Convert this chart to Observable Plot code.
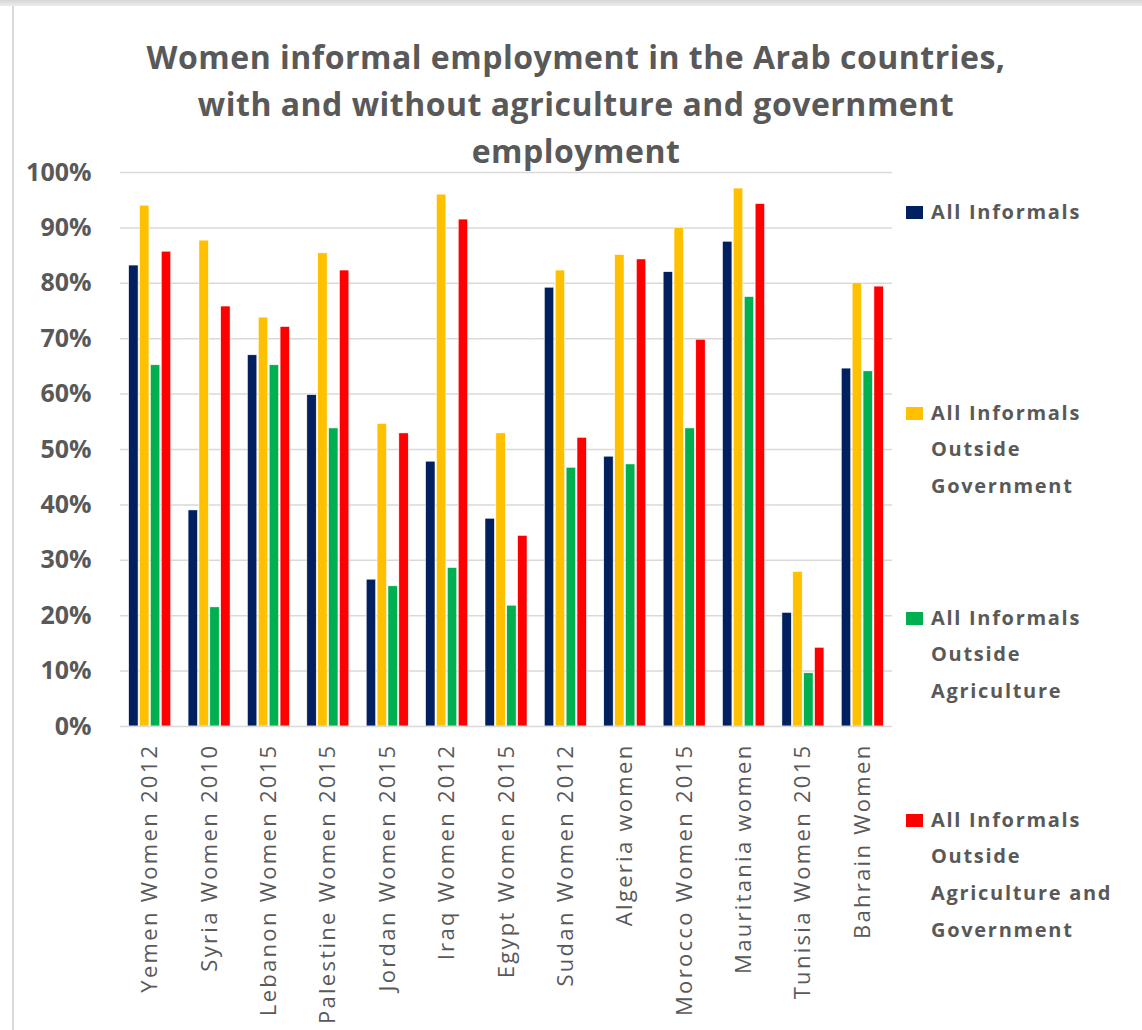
<!DOCTYPE html>
<html>
<head>
<meta charset="utf-8">
<script src="https://cdn.jsdelivr.net/npm/d3@7"></script>
<script src="https://cdn.jsdelivr.net/npm/@observablehq/plot@0.6"></script>
<style>
  html, body { margin: 0; padding: 0; background: #fff; }
  body { width: 1142px; height: 1030px; position: relative; overflow: hidden; font-family: "Open Sans", sans-serif; color: #595959; }
  #topband { position: absolute; left: 0; top: 0; width: 1142px; height: 6px; background: linear-gradient(#d6d6d6, #ececec); }
  #leftline { position: absolute; left: 12px; top: 6px; width: 2px; height: 1024px; background: #dadada; }
  #title { position: absolute; left: 5px; top: 33px; width: 1142px; text-align: center; font-size: 32px; font-weight: bold; line-height: 47px; letter-spacing: 0.5px; }
  #chart { position: absolute; left: 0; top: 150px; }
  .leg { position: absolute; left: 906px; font-size: 20px; font-weight: bold; line-height: 36.7px; letter-spacing: 1.7px; }
  .leg .sw { position: absolute; left: 0; top: 12px; width: 17px; height: 13px; }
  .leg .tx { position: absolute; left: 25px; top: 0; white-space: nowrap; }
</style>
</head>
<body>
<div id="topband"></div>
<div id="leftline"></div>
<div id="title">Women informal employment in the Arab countries,<br>with and without agriculture and government<br>employment</div>
<div id="chart"></div>
<div id="legend"></div>
<script>
const countries = ["Yemen Women 2012", "Syria Women 2010", "Lebanon Women 2015", "Palestine Women 2015", "Jordan Women 2015", "Iraq Women 2012", "Egypt Women 2015", "Sudan Women 2012", "Algeria women", "Morocco Women 2015", "Mauritania women", "Tunisia Women 2015", "Bahrain Women"];
const allInformals =        [83.2, 39.0, 67.0, 59.8, 26.5, 47.8, 37.5, 79.2, 48.7, 82.0, 87.5, 20.5, 64.6];
const outsideGovernment =   [94.0, 87.7, 73.8, 85.4, 54.6, 96.0, 52.9, 82.3, 85.1, 90.0, 97.1, 27.9, 80.0];
const outsideAgriculture =  [65.2, 21.5, 65.2, 53.8, 25.3, 28.6, 21.8, 46.7, 47.3, 53.8, 77.5,  9.6, 64.1];
const outsideAgriGov =      [85.7, 75.8, 72.1, 82.3, 52.9, 91.5, 34.4, 52.1, 84.3, 69.8, 94.3, 14.2, 79.4];
const seriesNames = ["All Informals", "All Informals Outside Government", "All Informals Outside Agriculture", "All Informals Outside Agriculture and Government"];
const legendLines = [["All Informals"], ["All Informals", "Outside", "Government"], ["All Informals", "Outside", "Agriculture"], ["All Informals", "Outside", "Agriculture and", "Government"]];
const colors = ["#002060", "#FFC000", "#00B050", "#FF0000"];
const yTicks = [0, 10, 20, 30, 40, 50, 60, 70, 80, 90, 100];

const seriesValues = [allInformals, outsideGovernment, outsideAgriculture, outsideAgriGov];
const data = countries.flatMap((c, i) => seriesNames.map((s, j) => ({country: c, series: s, value: seriesValues[j][i]})));

const chart = Plot.plot({
  width: 900,
  height: 880,
  marginLeft: 120,
  marginRight: 8,
  marginTop: 22,
  marginBottom: 304,
  style: {fontFamily: "Open Sans", color: "#595959", background: "transparent", overflow: "visible"},
  fx: {domain: countries, padding: 0, label: null, round: false},
  x: {domain: seriesNames, axis: null, paddingInner: 0.14, paddingOuter: 0.8, round: false},
  y: {domain: [0, 100], label: null},
  color: {domain: seriesNames, range: colors},
  marks: [
    Plot.gridY(yTicks.filter(d => d > 0), {stroke: "#d9d9d9", strokeOpacity: 1, strokeWidth: 1.5}),
    Plot.axisY({ticks: yTicks, tickSize: 0, tickPadding: 29, tickFormat: d => d + "%", fontSize: 25, fontWeight: "bold", label: null}),
    Plot.barY(data, {fx: "country", x: "series", y: "value", fill: "series", stroke: "#ffffff", strokeWidth: 0.5}),
    Plot.ruleY([0], {stroke: "#d9d9d9", strokeWidth: 1.5}),
    Plot.axisFx({anchor: "bottom", tickRotate: -90, tickSize: 0, tickPadding: 17, fontSize: 22, label: null})
  ]
});
document.getElementById("chart").appendChild(chart);

d3.select(chart).selectAll('g[aria-label="fx-axis tick label"] text').style("letter-spacing", "2.3px");

const legend = document.getElementById("legend");
const legendCenters = [212, 413, 618, 820];
seriesNames.forEach((s, j) => {
  const e = document.createElement("div");
  e.className = "leg";
  e.style.top = (legendCenters[j] - 18.35) + "px";
  e.innerHTML = `<div class="sw" style="background:${colors[j]}"></div><div class="tx">${legendLines[j].join("<br>")}</div>`;
  legend.appendChild(e);
});
</script>
</body>
</html>
